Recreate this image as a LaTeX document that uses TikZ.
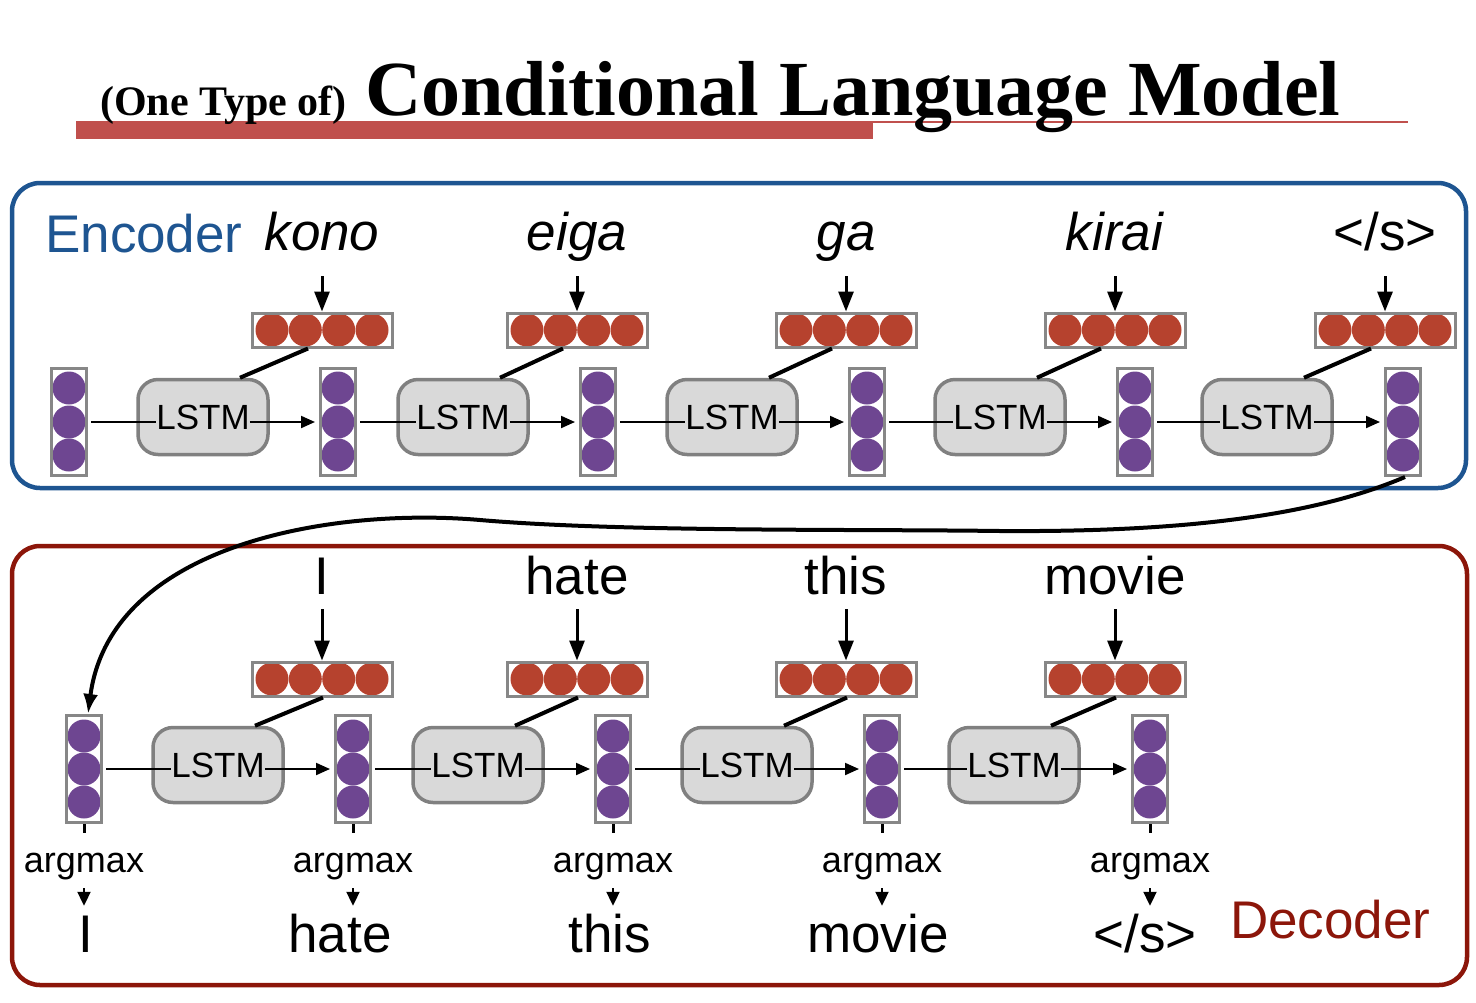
\documentclass[tikz,border=0pt]{standalone}
\usepackage{fontspec}
\setmainfont{Liberation Sans}
\newfontfamily\titlefont{Liberation Serif}
\usetikzlibrary{arrows.meta}

\definecolor{encblue}{RGB}{30,85,145}
\definecolor{decred}{RGB}{140,22,10}
\definecolor{embred}{RGB}{182,66,46}
\definecolor{hidpurple}{RGB}{110,70,145}
\definecolor{vecgray}{RGB}{135,135,135}
\definecolor{lstmgray}{RGB}{128,128,128}
\definecolor{lstmfill}{RGB}{217,217,217}
\definecolor{barred}{RGB}{192,80,77}

\tikzset{
	embvec/.style={draw=vecgray,line width=3pt,minimum width=140pt,minimum height=34pt,inner sep=0pt},
	hidvec/.style={draw=vecgray,line width=3pt,minimum width=35pt,minimum height=107pt,inner sep=0pt},
	lstmbox/.style={draw=lstmgray,line width=3.5pt,fill=lstmfill,rounded corners=20pt,minimum width=130pt,minimum height=75pt},
	lstmtext/.style={inner sep=0pt,font=\fontsize{35}{40}\selectfont},
	word/.style={anchor=base,inner sep=0pt,font=\fontsize{53}{60}\selectfont},
	amtext/.style={anchor=base,inner sep=0pt,text height=39pt,font=\fontsize{36}{40}\selectfont},
	outword/.style={anchor=base,inner sep=0pt,text height=46pt,font=\fontsize{53}{60}\selectfont},
	wordarrow/.style={line width=3pt,-{Triangle[length=20pt,width=15pt]}},
	steparrow/.style={line width=2pt,-{Triangle[length=14pt,width=12pt]}},
	amarrow/.style={line width=2pt,-{Triangle[length=14pt,width=13pt]}},
	feed/.style={line width=4pt},
	frame/.style={line width=4.5pt,rounded corners=28pt}
}

\begin{document}
\begin{tikzpicture}[x=1pt,y=-1pt]
	\useasboundingbox (0,0) rectangle (1476,1002);
	% title
	\fill[barred] (76,121) rectangle (873,139);
	\draw[barred,line width=1.8pt] (873,122) -- (1408,122);
	\node[anchor=base west,inner sep=0pt,font=\titlefont\bfseries\fontsize{42}{48}\selectfont] (subtitle) at (100,115) {(One Type of)};
	\node[anchor=base west,inner sep=0pt,font=\titlefont\bfseries\fontsize{78}{90}\selectfont] (title) at (365,115) {Conditional Language Model};
	
	% frames
	\draw[frame,encblue] (12,183) rectangle (1466,488);
	\draw[frame,decred] (12,546) rectangle (1467,985);
	\node[anchor=base west,inner sep=0pt,text=encblue,font=\fontsize{53}{60}\selectfont] (enclabel) at (45,252) {Encoder};
	\node[anchor=base west,inner sep=0pt,text=decred,font=\fontsize{53}{60}\selectfont] (declabel) at (1230,938) {Decoder};
	
	% encoder
	\foreach \i/\x in {1/69,2/338,3/598,4/867,5/1135,6/1403}{
		\foreach \d in {-34,0,33}
			\fill[hidpurple] (\x,422) ++(0,\d) circle (16.5pt);
		\node[hidvec] (eh\i) at (\x,422) {};
	}
	\foreach \i/\x/\w in {1/322/\textit{kono},2/577/\textit{eiga},3/846/\textit{ga},4/1115/\textit{kirai},5/1385/{</s>}}{
		\foreach \d in {-50,-16.7,16.7,50}
			\fill[embred] (\x,330) ++(\d,0) circle (16.5pt);
		\node[embvec] (ee\i) at (\x,330) {};
		\node[word] (ew\i) at (\x,250) {\w};
		\draw[wordarrow] ([yshift=-26pt]ew\i.base) -- (ee\i.north);
	}
	\foreach \i/\x in {1/203,2/463,3/732,4/1000,5/1267}{
		\node[lstmbox] (el\i) at (\x,417) {};
		\node[lstmtext] (elt\i) at (\x,417) {LSTM};
		\draw[feed] ([xshift=-14pt]ee\i.south) -- ([xshift=37pt]el\i.north);
	}
	\foreach \i/\j in {1/2,2/3,3/4,4/5,5/6}{
		\draw[line width=2pt,shorten <=3pt] (eh\i.east) -- (eh\i.east -| elt\i.west);
		\draw[steparrow,shorten >=4pt] (elt\i.east |- eh\j.west) -- (eh\j.west);
	}
	
	% decoder
	\foreach \i/\x in {1/84,2/353,3/613,4/882,5/1150}{
		\foreach \d in {-33,0,33}
			\fill[hidpurple] (\x,769) ++(0,\d) circle (16.5pt);
		\node[hidvec] (dh\i) at (\x,769) {};
	}
	\foreach \i/\x/\w in {1/322/I,2/577/hate,3/846/this,4/1115/movie}{
		\foreach \d in {-50,-16.7,16.7,50}
			\fill[embred] (\x,679) ++(\d,0) circle (16.5pt);
		\node[embvec] (de\i) at (\x,679) {};
		\node[word] (dw\i) at (\x,594) {\w};
		\draw[wordarrow] ([yshift=-15pt]dw\i.base) -- (de\i.north);
	}
	\foreach \i/\x in {1/218,2/478,3/747,4/1014}{
		\node[lstmbox] (dl\i) at (\x,765) {};
		\node[lstmtext] (dlt\i) at (\x,765) {LSTM};
		\draw[feed] ([xshift=1pt]de\i.south) -- ([xshift=37pt]dl\i.north);
	}
	\foreach \i/\j in {1/2,2/3,3/4,4/5}{
		\draw[line width=2pt,shorten <=3pt] (dh\i.east) -- (dh\i.east -| dlt\i.west);
		\draw[steparrow,shorten >=4pt] (dlt\i.east |- dh\j.west) -- (dh\j.west);
	}
	\foreach \i/\x/\ox/\w in {1/84/86/I,2/353/340/hate,3/613/610/this,4/882/878/movie,5/1150/1145/{</s>}}{
		\node[amtext] (am\i) at (\x,872) {argmax};
		\node[outword] (out\i) at (\ox,952) {\w};
		\draw[line width=3pt] (dh\i.south) -- (am\i.north);
		\draw[amarrow] ([yshift=-16pt]am\i.base) -- (am\i.base |- out\i.north);
	}
	
	% encoder to decoder
	\draw[line width=4pt,-{Latex[length=20pt,width=15pt]}] ([xshift=2pt]eh6.south) .. controls (1300,522) and (1150,532) .. (1000,531) .. controls (850,529) and (620,532) .. (480,520) .. controls (330,507) and (110,545) .. ([xshift=4pt]dh1.north);
\end{tikzpicture}
\end{document}
